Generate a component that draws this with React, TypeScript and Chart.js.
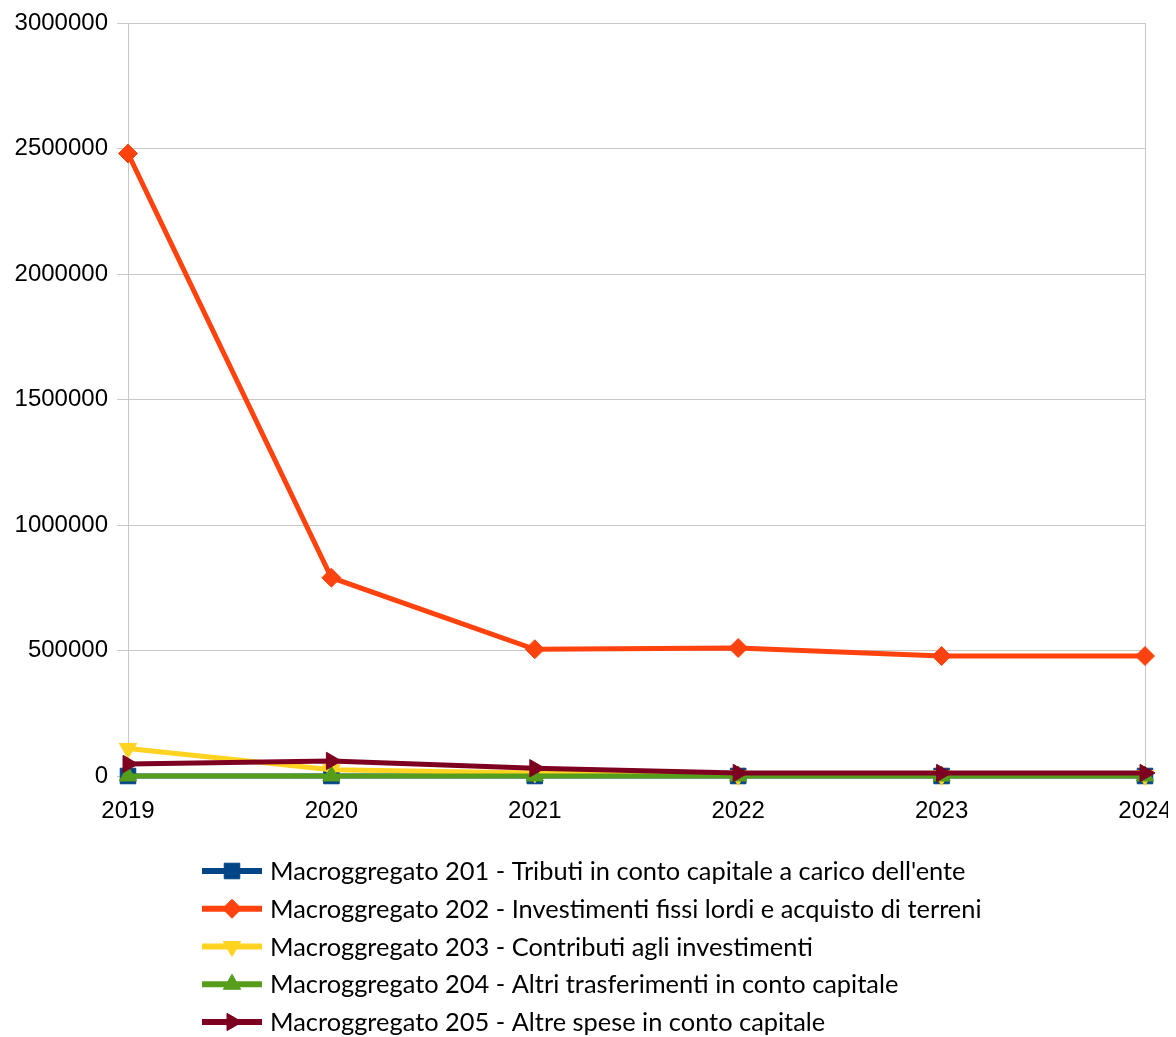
import React, { useEffect, useRef } from "react";
import { Chart, registerables } from "chart.js";
import { drawPoint } from "chart.js/helpers";

Chart.register(...registerables);

const years = ["2019", "2020", "2021", "2022", "2023", "2024"];
const labels201 = "Macroggregato 201 - Tributi in conto capitale a carico dell'ente";
const labels202 = "Macroggregato 202 - Investimenti fissi lordi e acquisto di terreni";
const labels203 = "Macroggregato 203 - Contributi agli investimenti";
const labels204 = "Macroggregato 204 - Altri trasferimenti in conto capitale";
const labels205 = "Macroggregato 205 - Altre spese in conto capitale";

const values201 = [0, 0, 0, 0, 0, 0];
const values202 = [2480000, 790000, 505000, 510000, 478000, 478000];
const values203 = [110000, 25000, 12000, 2000, 2000, 2000];
const values204 = [0, 0, 0, 0, 0, 0];
const values205 = [48000, 60000, 31000, 12000, 12000, 12000];

const yTicksMax = 3000000;
const yTicksStep = 500000;

const W = 1176;
const H = 1037;
const PLOT_BOTTOM = 776;

export default function App() {
  const ref = useRef<HTMLCanvasElement>(null);

  useEffect(() => {
    document.body.style.overflow = "hidden";
    const canvas = ref.current!;
    const series = [
      { label: labels201, data: values201, color: "#004586", style: "rect", rot: 0, r: 11 },
      { label: labels202, data: values202, color: "#ff420e", style: "rectRot", rot: 0, r: 9.5 },
      { label: labels203, data: values203, color: "#ffd320", style: "triangle", rot: 180, r: 10 },
      { label: labels204, data: values204, color: "#579d1c", style: "triangle", rot: 0, r: 10 },
      { label: labels205, data: values205, color: "#7e0021", style: "triangle", rot: 90, r: 10 },
    ];

    const legendPlugin = {
      id: "customLegend",
      afterDraw(chart: any) {
        const ctx = chart.ctx as CanvasRenderingContext2D;
        ctx.save();
        ctx.font = "100px Lato";
        const m = ctx.measureText(labels201).width;
        const size = (100 * 696) / m;
        ctx.textBaseline = "middle";
        ctx.textAlign = "left";
        series.forEach((s, i) => {
          const y = 871 + i * 37.75;
          ctx.strokeStyle = s.color;
          ctx.lineWidth = 6;
          ctx.beginPath();
          ctx.moveTo(202, y);
          ctx.lineTo(262, y);
          ctx.stroke();
          ctx.fillStyle = s.color;
          ctx.strokeStyle = s.color;
          ctx.lineWidth = 1;
          drawPoint(
            ctx,
            { pointStyle: s.style as any, rotation: s.rot, radius: s.r, borderWidth: 1 } as any,
            232,
            y
          );
          ctx.font = `${size}px Lato`;
          ctx.fillStyle = "#000";
          ctx.fillText(s.label, 270, y + 1);
        });
        ctx.restore();
      },
    };

    const chart = new Chart(canvas, {
      type: "line",
      data: {
        labels: years,
        datasets: series.map((s, i) => ({
          label: s.label,
          data: s.data,
          borderColor: s.color,
          backgroundColor: s.color,
          borderWidth: 5,
          pointStyle: s.style as any,
          pointRotation: s.rot,
          pointRadius: s.r,
          pointBorderWidth: 1,
          pointBackgroundColor: s.color,
          pointBorderColor: s.color,
          fill: false,
          tension: 0,
          clip: false,
          order: 5 - i,
        })),
      },
      options: {
        responsive: false,
        animation: false,
        layout: { autoPadding: false, padding: { top: 23, right: 31, left: 0, bottom: 0 } },
        plugins: {
          legend: { display: false },
          tooltip: { enabled: false },
        },
        scales: {
          x: {
            offset: false,
            grid: {
              display: true,
              drawOnChartArea: true,
              color: (c: any) => (c.index === years.length - 1 ? "#c8c8c8" : "rgba(0,0,0,0)"),
              tickColor: "#c8c8c8",
              tickLength: 8,
              lineWidth: 1,
            },
            border: { display: true, color: "#c8c8c8" },
            ticks: {
              color: "#000",
              font: { family: "'Liberation Sans'", size: 24 },
              padding: 13,
              maxRotation: 0,
              autoSkip: false,
            },
            afterFit: (scale: any) => {
              scale.height = H - PLOT_BOTTOM;
              scale.paddingLeft = 0;
              scale.paddingRight = 0;
            },
          },
          y: {
            min: 0,
            max: yTicksMax,
            grid: { color: "#c8c8c8", tickColor: "#c8c8c8", tickLength: 11, lineWidth: 1 },
            border: { display: true, color: "#c8c8c8" },
            ticks: {
              stepSize: yTicksStep,
              color: "#000",
              font: { family: "'Liberation Sans'", size: 24 },
              padding: 9,
              callback: (v: any) => String(v),
            },
            afterFit: (scale: any) => {
              scale.width = 128;
              scale.paddingTop = 0;
              scale.paddingBottom = 0;
            },
          },
        },
      },
      plugins: [legendPlugin],
    });
    return () => chart.destroy();
  }, []);

  return (
    <div style={{ width: W, height: H, marginTop: -8, marginLeft: -8 }}>
      <canvas ref={ref} width={W} height={H} style={{ display: "block" }} />
    </div>
  );
}
